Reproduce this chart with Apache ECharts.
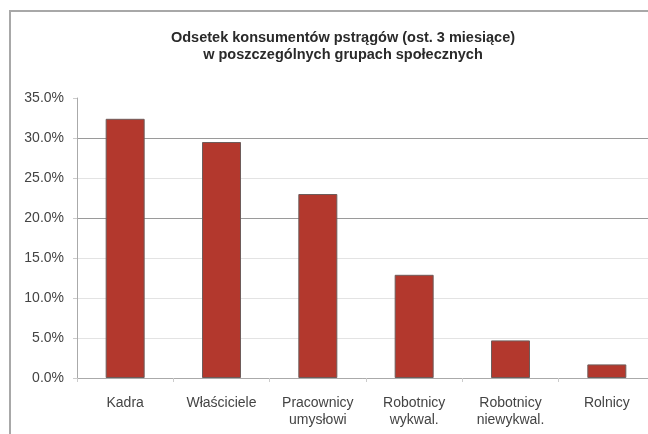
<!DOCTYPE html>
<html>
<head>
<meta charset="utf-8">
<script src="https://cdn.jsdelivr.net/npm/echarts@6/dist/echarts.min.js"></script>
<style>
  html, body { margin: 0; padding: 0; background: #fff; }
  #chart { width: 648px; height: 434px; }
</style>
</head>
<body>
<div id="chart"></div>
<script>
// Share of trout consumers by social group (last 3 months)
const categories = ['Kadra', 'Właściciele', 'Pracownicy\numysłowi', 'Robotnicy\nwykwal.', 'Robotnicy\nniewykwal.', 'Rolnicy'];
const shares = [32.4, 29.5, 23.0, 12.9, 4.7, 1.7];
const titleLines = ['Odsetek konsumentów pstrągów (ost. 3 miesiące)', 'w poszczególnych grupach społecznych'];

const chart = echarts.init(document.getElementById('chart'), null, { renderer: 'canvas' });
const font = '"Liberation Sans", Arial, sans-serif';

chart.setOption({
  animation: false,
  backgroundColor: '#fff',
  textStyle: { fontFamily: font },
  title: {
    text: titleLines.join('\n'),
    left: 338,
    textAlign: 'center',
    top: 24,
    textStyle: { fontFamily: font, fontSize: 14.5, fontWeight: 'bold', color: '#2a2a2a', lineHeight: 17 }
  },
  graphic: [{
    type: 'rect',
    shape: { x: 10, y: 11, width: 700, height: 500 },
    style: { fill: 'none', stroke: '#a8a8a8', lineWidth: 2 },
    silent: true
  }],
  grid: { left: 77, top: 98, width: 578, height: 280, containLabel: false, outerBoundsMode: 'none' },
  xAxis: {
    type: 'category',
    data: categories,
    axisLine: { lineStyle: { color: '#aaa', width: 1 } },
    axisTick: { show: true, alignWithLabel: false, length: 4, lineStyle: { color: '#ccc' } },
    axisLabel: { color: '#444', fontSize: 14, margin: 17, lineHeight: 17, fontFamily: font, interval: 0 }
  },
  yAxis: {
    type: 'value',
    min: 0,
    max: 35,
    interval: 5,
    axisLine: { show: true, lineStyle: { color: '#aaa', width: 1 } },
    axisTick: { show: true, length: 4, lineStyle: { color: '#ccc' } },
    axisLabel: {
      color: '#444', fontSize: 14, margin: 13, fontFamily: font,
      formatter: v => v.toFixed(1) + '%'
    },
    splitLine: {
      show: true,
      lineStyle: {
        color: ['#ccc', '#e3e3e3', '#e3e3e3', '#e3e3e3', '#9a9a9a', '#e3e3e3', '#9a9a9a', 'rgba(0,0,0,0)'],
        width: 1
      }
    }
  },
  series: [{
    type: 'bar',
    data: shares,
    barWidth: 39,
    itemStyle: { color: '#b3382d', borderColor: '#6e5c5a', borderWidth: 1 }
  }]
});
</script>
</body>
</html>
